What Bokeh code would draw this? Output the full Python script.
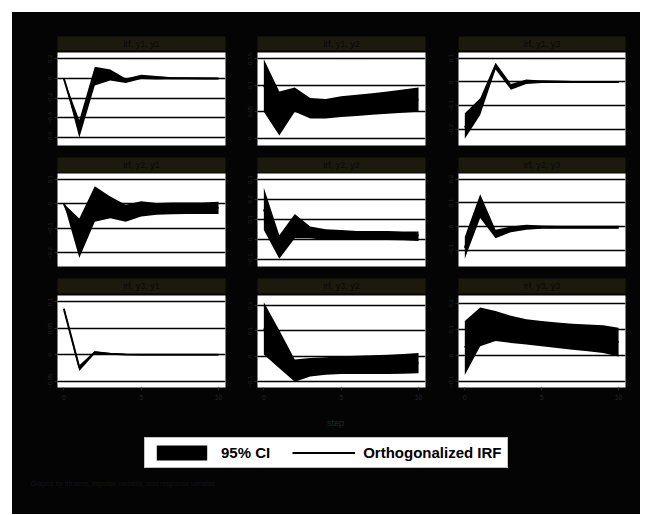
from bokeh.plotting import figure
from bokeh.layouts import column, row
from bokeh.models import FixedTicker, Range1d, Legend, LegendItem, Label
from bokeh.embed import file_html
from bokeh.resources import INLINE

# ---------------- data ----------------
steps = [0, 1, 2, 3, 4, 5, 6, 7, 8, 9, 10]
x_ticks = [0, 5, 10]

titles = ["irf, y1, y1", "irf, y1, y2", "irf, y1, y3",
          "irf, y2, y1", "irf, y2, y2", "irf, y2, y3",
          "irf, y3, y1", "irf, y3, y2", "irf, y3, y3"]

# panel (1,1)
irf_11 = [0, -0.52, 0.04, 0.035, -0.02, 0.02, 0.01, 0.004, 0.003, 0.002, 0.001]
lo_11 = [0, -0.60, -0.07, -0.02, -0.045, -0.005, -0.01, -0.008, -0.008, -0.007, -0.006]
hi_11 = [0, -0.42, 0.12, 0.093, 0.0, 0.04, 0.025, 0.014, 0.012, 0.010, 0.008]
ticks_11 = [-0.6, -0.4, -0.2, 0, 0.2]
yr_11 = [-0.68, 0.265]

# panel (1,2)
irf_12 = [0.10, 0.047, 0.073, 0.056, 0.055, 0.060, 0.062, 0.065, 0.067, 0.070, 0.073]
lo_12 = [0.05, 0.005, 0.05, 0.037, 0.037, 0.040, 0.042, 0.044, 0.046, 0.048, 0.050]
hi_12 = [0.149, 0.088, 0.096, 0.076, 0.074, 0.079, 0.082, 0.085, 0.088, 0.092, 0.096]
ticks_12 = [0, 0.05, 0.1, 0.15]
yr_12 = [-0.014, 0.162]

# panel (1,3)
irf_13 = [-0.19, -0.10, 0.066, -0.02, 0.0, 0.002, 0.001, 0, 0, 0, 0]
lo_13 = [-0.237, -0.138, 0.052, -0.032, -0.008, -0.004, -0.004, -0.004, -0.004, -0.004, -0.004]
hi_13 = [-0.13, -0.068, 0.08, -0.008, 0.01, 0.006, 0.005, 0.004, 0.004, 0.004, 0.004]
ticks_13 = [-0.2, -0.1, 0, 0.1]
yr_13 = [-0.265, 0.123]

# panel (2,1)
irf_21 = [0, -0.14, 0.0, -0.015, -0.04, -0.02, -0.02, -0.019, -0.018, -0.018, -0.017]
lo_21 = [0, -0.22, -0.073, -0.059, -0.073, -0.052, -0.045, -0.043, -0.042, -0.042, -0.042]
hi_21 = [0, -0.06, 0.071, 0.03, -0.004, 0.01, 0.003, 0.005, 0.005, 0.005, 0.008]
ticks_21 = [-0.2, -0.1, 0, 0.1]
yr_21 = [-0.255, 0.123]

# panel (2,2)
irf_22 = [0.15, -0.04, 0.066, 0.035, 0.024, 0.022, 0.02, 0.02, 0.02, 0.02, 0.02]
lo_22 = [0.047, -0.097, 0.005, 0.005, -0.003, -0.003, -0.003, -0.003, -0.003, -0.004, -0.008]
hi_22 = [0.259, 0.02, 0.127, 0.064, 0.051, 0.047, 0.042, 0.042, 0.042, 0.040, 0.039]
ticks_22 = [-0.1, 0, 0.1, 0.2, 0.3]
yr_22 = [-0.136, 0.33]

# panel (2,3)
irf_23 = [-0.09, 0.09, -0.035, -0.012, -0.004, -0.003, -0.003, -0.003, -0.003, -0.003, -0.003]
lo_23 = [-0.136, 0.036, -0.05, -0.024, -0.014, -0.010, -0.009, -0.009, -0.009, -0.009, -0.009]
hi_23 = [-0.043, 0.136, -0.014, 0.0, 0.007, 0.004, 0.003, 0.003, 0.003, 0.003, 0.003]
ticks_23 = [-0.1, 0, 0.1, 0.2]
yr_23 = [-0.169, 0.224]

# panel (3,1)
irf_31 = [0.087, -0.024, 0.0045, 0.002, 0.0005, 0, 0, 0, 0, 0, 0]
lo_31 = [0.083, -0.031, 0.0019, 0.0005, -0.0005, -0.0005, -0.0005, -0.0005, -0.0005, -0.0005, -0.0005]
hi_31 = [0.090, -0.020, 0.0064, 0.003, 0.0012, 0.0005, 0.0005, 0.0005, 0.0005, 0.0005, 0.0005]
ticks_31 = [-0.05, 0, 0.05, 0.1]
yr_31 = [-0.062, 0.112]

# panel (3,2)
irf_32 = [0.11, 0.03, -0.056, -0.044, -0.038, -0.035, -0.035, -0.035, -0.034, -0.032, -0.027]
lo_32 = [0.007, -0.047, -0.10, -0.08, -0.073, -0.07, -0.07, -0.07, -0.07, -0.069, -0.067]
hi_32 = [0.213, 0.103, -0.013, -0.007, -0.004, 0.0, 0.002, 0.004, 0.006, 0.009, 0.013]
ticks_32 = [-0.1, 0, 0.1, 0.2]
yr_32 = [-0.123, 0.24]

# panel (3,3)
irf_33 = [0.03, 0.11, 0.113, 0.10, 0.09, 0.083, 0.077, 0.072, 0.067, 0.062, 0.051]
lo_33 = [-0.075, 0.035, 0.055, 0.048, 0.042, 0.035, 0.029, 0.022, 0.016, 0.009, -0.004]
hi_33 = [0.132, 0.184, 0.171, 0.152, 0.139, 0.132, 0.126, 0.122, 0.119, 0.116, 0.106]
ticks_33 = [-0.1, 0, 0.1, 0.2]
yr_33 = [-0.123, 0.23]

legend_labels = ["95% CI", "Orthogonalized IRF"]
x_title = "step"
note = "Graphs by irfname, impulse variable, and response variable"

panels = [
    [(irf_11, lo_11, hi_11, ticks_11, yr_11), (irf_12, lo_12, hi_12, ticks_12, yr_12), (irf_13, lo_13, hi_13, ticks_13, yr_13)],
    [(irf_21, lo_21, hi_21, ticks_21, yr_21), (irf_22, lo_22, hi_22, ticks_22, yr_22), (irf_23, lo_23, hi_23, ticks_23, yr_23)],
    [(irf_31, lo_31, hi_31, ticks_31, yr_31), (irf_32, lo_32, hi_32, ticks_32, yr_32), (irf_33, lo_33, hi_33, ticks_33, yr_33)],
]

# ---------------- style ----------------
BG = "#040404"
STRIP = "#1b1a0c"
DIM = "#262626"
FONT = "Liberation Sans"
BGSTYLE = {"background-color": BG}

# (figure width, left border, right border) per column
cols = [(229, 45, 16), (200, 16, 16), (199, 17, 15)]
# strip rows: (height, top, bottom); panel rows: (height, bottom)
strip_rows = [(40, 24, 2), (18, 2, 1), (19, 2, 2)]
panel_rows = [(103, 10), (103, 10), (112, 20)]


def strip_fig(ci, ri, title):
    w, bl, br = cols[ci]
    h, bt, bb = strip_rows[ri]
    p = figure(width=w, height=h, x_range=(0, 1), y_range=(0, 1), title=None,
               x_axis_location=None, y_axis_location=None,
               min_border_left=bl, min_border_right=br, min_border_top=bt, min_border_bottom=bb,
               background_fill_color=STRIP, border_fill_color=BG, outline_line_color=None,
               toolbar_location=None, output_backend="svg", styles=BGSTYLE)
    p.grid.visible = False
    p.add_layout(Label(x=0.5, y=0.5, text=title, text_align="center", text_baseline="middle",
                       text_color="#080808", text_font_size="9px", text_font=FONT))
    return p


def panel_fig(ci, ri, data):
    irf, lo, hi, ticks, yr = data
    w, bl, br = cols[ci]
    h, bb = panel_rows[ri]
    last = ri == 2
    p = figure(width=w, height=h, title=None,
               x_range=Range1d(-0.41, 10.45), y_range=Range1d(yr[0], yr[1]),
               x_axis_location="below" if last else None, y_axis_location="left",
               min_border_left=bl, min_border_right=br, min_border_top=0, min_border_bottom=bb,
               background_fill_color="white", border_fill_color=BG, outline_line_color=None,
               toolbar_location=None, output_backend="svg", styles=BGSTYLE)
    p.yaxis.ticker = FixedTicker(ticks=ticks)
    p.yaxis.major_label_orientation = "vertical"
    p.yaxis.major_label_text_font_size = "6px"
    p.yaxis.major_label_text_color = DIM
    p.yaxis.major_label_text_font = FONT
    p.yaxis.axis_line_color = None
    p.yaxis.major_tick_line_color = DIM
    p.yaxis.major_tick_out = 3
    p.yaxis.major_tick_in = 0
    p.yaxis.minor_tick_line_color = None
    p.yaxis.major_label_standoff = 2
    p.ygrid.grid_line_color = "black"
    p.ygrid.grid_line_width = 1.4
    p.xgrid.visible = False
    if last:
        p.xaxis.ticker = FixedTicker(ticks=x_ticks)
        p.xaxis.major_label_text_font_size = "7px"
        p.xaxis.major_label_text_color = DIM
        p.xaxis.major_label_text_font = FONT
        p.xaxis.axis_line_color = None
        p.xaxis.major_tick_line_color = DIM
        p.xaxis.major_tick_out = 3
        p.xaxis.major_tick_in = 0
        p.xaxis.minor_tick_line_color = None
        p.xaxis.major_label_standoff = 4
    p.varea(x=steps, y1=lo, y2=hi, fill_color="black", fill_alpha=1.0)
    p.line(x=steps, y=irf, line_color="black", line_width=2)
    return p


rows_out = []
for ri in range(3):
    rows_out.append(row([strip_fig(ci, ri, titles[ri * 3 + ci]) for ci in range(3)],
                        spacing=0, styles=BGSTYLE))
    rows_out.append(row([panel_fig(ci, ri, panels[ri][ci]) for ci in range(3)],
                        spacing=0, styles=BGSTYLE))

# bottom area: axis title, legend, note
bottom = figure(width=628, height=107, x_range=(0, 1), y_range=(0, 1), title=None,
                x_axis_location=None, y_axis_location=None,
                min_border_left=0, min_border_right=0, min_border_top=0, min_border_bottom=0,
                background_fill_color=BG, border_fill_color=BG, outline_line_color=None,
                toolbar_location=None, output_backend="svg", styles=BGSTYLE)
bottom.grid.visible = False
# legend proxies (hidden renderers using panel (3,3) data)
band_proxy = bottom.varea(x=steps, y1=lo_33, y2=hi_33, fill_color="black", visible=False)
line_proxy = bottom.line(x=steps, y=irf_33, line_color="black", line_width=2, visible=False)
legend = Legend(items=[LegendItem(label=legend_labels[0], renderers=[band_proxy]),
                       LegendItem(label=legend_labels[1], renderers=[line_proxy])],
                orientation="horizontal", location=(132, 46),
                background_fill_color="white", background_fill_alpha=1.0,
                border_line_color="#888888", border_line_width=1,
                inactive_fill_alpha=0.0,
                padding=5, margin=0, spacing=22, label_standoff=8,
                glyph_width=63, glyph_height=19,
                label_text_font=FONT, label_text_font_style="bold",
                label_text_font_size="15px", label_text_color="black")
bottom.add_layout(legend)
bottom.add_layout(Label(x=323, y=92, x_units="screen", y_units="screen", text=x_title,
                        text_align="center", text_baseline="middle", text_color=DIM,
                        text_font_size="9px", text_font=FONT))
bottom.add_layout(Label(x=18, y=31, x_units="screen", y_units="screen", text=note,
                        text_align="left", text_baseline="middle", text_color="#141414",
                        text_font_size="7px", text_font=FONT))

root = column(rows_out + [bottom], spacing=0, margin=(12, 0, 0, 12), styles=BGSTYLE)

with open("out.html", "w") as f:
    f.write(file_html(root, INLINE))
